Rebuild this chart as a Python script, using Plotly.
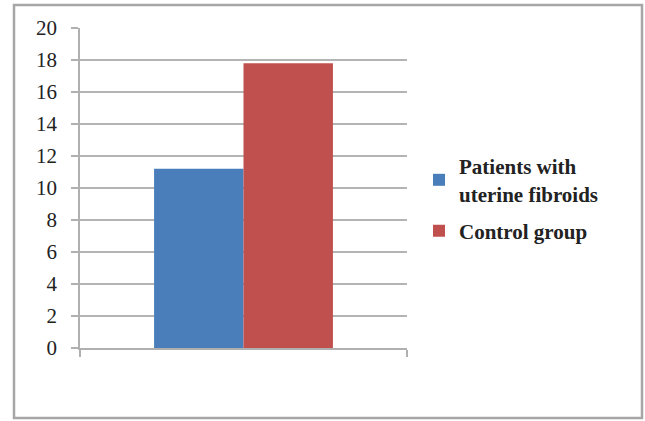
import plotly.graph_objects as go

# Series values
groups = ["Patients with<br>uterine fibroids", "Control group"]
values = [11.2, 17.8]
colors = ["#4A7EBB", "#C0504D"]
y_ticks = [0, 2, 4, 6, 8, 10, 12, 14, 16, 18, 20]

SERIF = "Liberation Serif"

fig = go.Figure()
for name, val, col in zip(groups, values, colors):
    fig.add_trace(go.Bar(
        x=[0], y=[val], name=name, legendgroup=name,
        marker=dict(color=col, line=dict(width=0)),
    ))

W, H = 645, 421
L, R, T, B = 80, 238, 28, 73
pw, ph = W - L - R, H - T - B

def px_x(px):
    return (px - L) / pw

def px_y(py):
    return (H - B - py) / ph

fig.update_layout(
    width=W, height=H,
    margin=dict(l=L, r=R, t=T, b=B),
    paper_bgcolor="white", plot_bgcolor="white",
    barmode="group", bargap=0.453, bargroupgap=0,
    font=dict(family=SERIF, color="#222222"),
    xaxis=dict(
        range=[-0.5, 0.5], tickvals=[-0.5, 0.5], ticktext=["", ""],
        ticks="outside", ticklen=7, tickcolor="#b0b0b0", tickwidth=1.5,
        showline=True, linecolor="#b0b0b0", linewidth=1.5,
        showgrid=False, zeroline=False, fixedrange=True,
    ),
    yaxis=dict(
        range=[0, 20], tickvals=y_ticks,
        ticks="outside", ticklen=7, tickcolor="#b0b0b0", tickwidth=1.5,
        showline=True, linecolor="#b0b0b0", linewidth=1.5,
        gridcolor="#b4b4b4", gridwidth=1.6, zeroline=False,
        tickfont=dict(family=SERIF, size=21, color="#222222"),
        ticklabelstandoff=10,
    ),
    legend=dict(
        x=px_x(419), y=px_y(146), xanchor="left", yanchor="top",
        font=dict(family=SERIF, size=21, color="#222222", weight="bold"),
        tracegroupgap=7, itemsizing="constant",
        bgcolor="rgba(0,0,0,0)",
    ),
    shapes=[dict(
        type="rect", xref="paper", yref="paper",
        x0=px_x(14), x1=px_x(642), y0=px_y(418), y1=px_y(5),
        line=dict(color="#a6a6a6", width=2.5), fillcolor="rgba(0,0,0,0)",
        layer="below",
    )],
)

fig.write_html("out.html")
